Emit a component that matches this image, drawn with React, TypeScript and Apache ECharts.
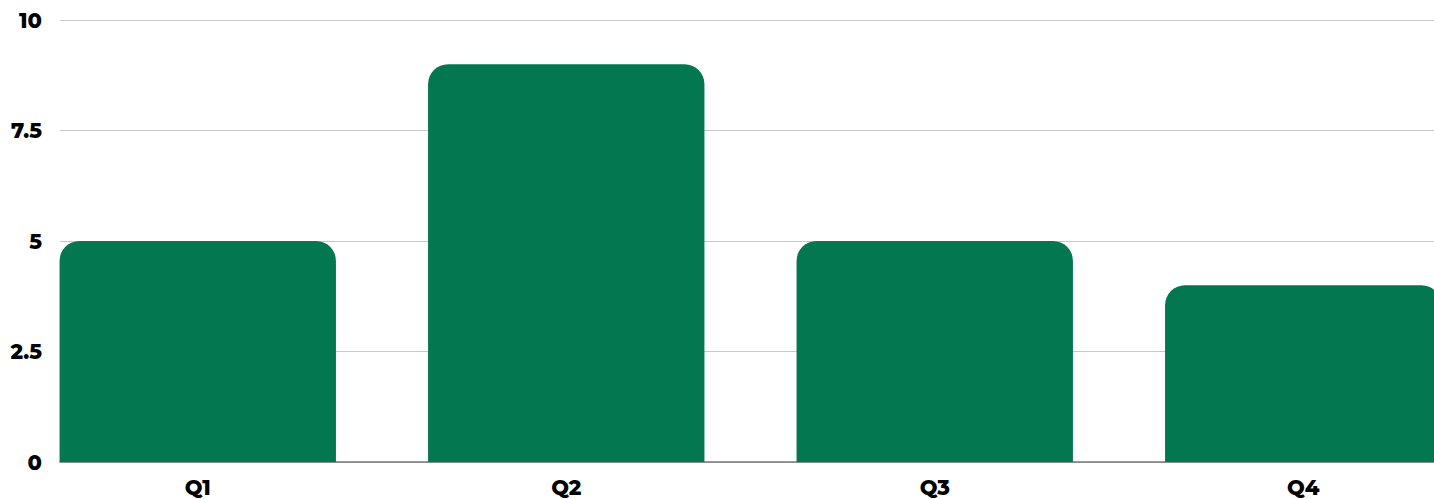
import React, { useEffect, useRef } from "react";
import * as echarts from "echarts";

const categories = ["Q1", "Q2", "Q3", "Q4"];
const values = [5, 9, 5, 4];
const yMin = 0;
const yMax = 10;
const yInterval = 2.5;

const FONT = "Montserrat, 'Noto Sans', 'DejaVu Sans', sans-serif";

export default function App() {
  const ref = useRef<HTMLDivElement>(null);
  useEffect(() => {
    if (!ref.current) return;
    const chart = echarts.init(ref.current, null, { renderer: "svg" });
    chart.setOption({
      animation: false,
      backgroundColor: "#ffffff",
      grid: [
        { left: 60, right: 0, top: 20, bottom: 37, containLabel: false, outerBoundsMode: "none" },
        { left: 13.5, width: 1474, top: 20, bottom: 37, containLabel: false, outerBoundsMode: "none" },
      ],
      xAxis: [
        {
          type: "category",
          gridIndex: 0,
          data: categories,
          axisLine: { show: true, lineStyle: { color: "#777777", width: 1.5 } },
          axisTick: { show: false },
          axisLabel: { show: false },
          splitLine: { show: false },
        },
        {
          type: "category",
          gridIndex: 1,
          data: categories,
          axisLine: { show: false },
          axisTick: { show: false },
          axisLabel: {
            show: true,
            color: "#000000",
            fontFamily: FONT,
            fontWeight: 800,
            fontSize: 21,
            margin: 15,
          },
          splitLine: { show: false },
        },
      ],
      yAxis: [
        {
          type: "value",
          gridIndex: 0,
          min: yMin,
          max: yMax,
          interval: yInterval,
          axisLine: { show: false },
          axisTick: { show: false },
          axisLabel: {
            color: "#000000",
            fontFamily: FONT,
            fontWeight: 800,
            fontSize: 21,
            margin: 18,
          },
          splitLine: { show: true, lineStyle: { color: "#c8c8c8", width: 1 } },
        },
        {
          type: "value",
          gridIndex: 1,
          min: yMin,
          max: yMax,
          interval: yInterval,
          show: false,
          splitLine: { show: false },
        },
      ],
      series: [
        {
          type: "bar",
          xAxisIndex: 1,
          yAxisIndex: 1,
          data: values,
          barCategoryGap: "25%",
          itemStyle: { color: "#037750", borderRadius: [20, 20, 0, 0] },
          z: 3,
        },
      ],
    });
    return () => chart.dispose();
  }, []);
  return (
    <div
      ref={ref}
      style={{ position: "fixed", left: 0, top: 0, width: 1434, height: 499 }}
    />
  );
}
